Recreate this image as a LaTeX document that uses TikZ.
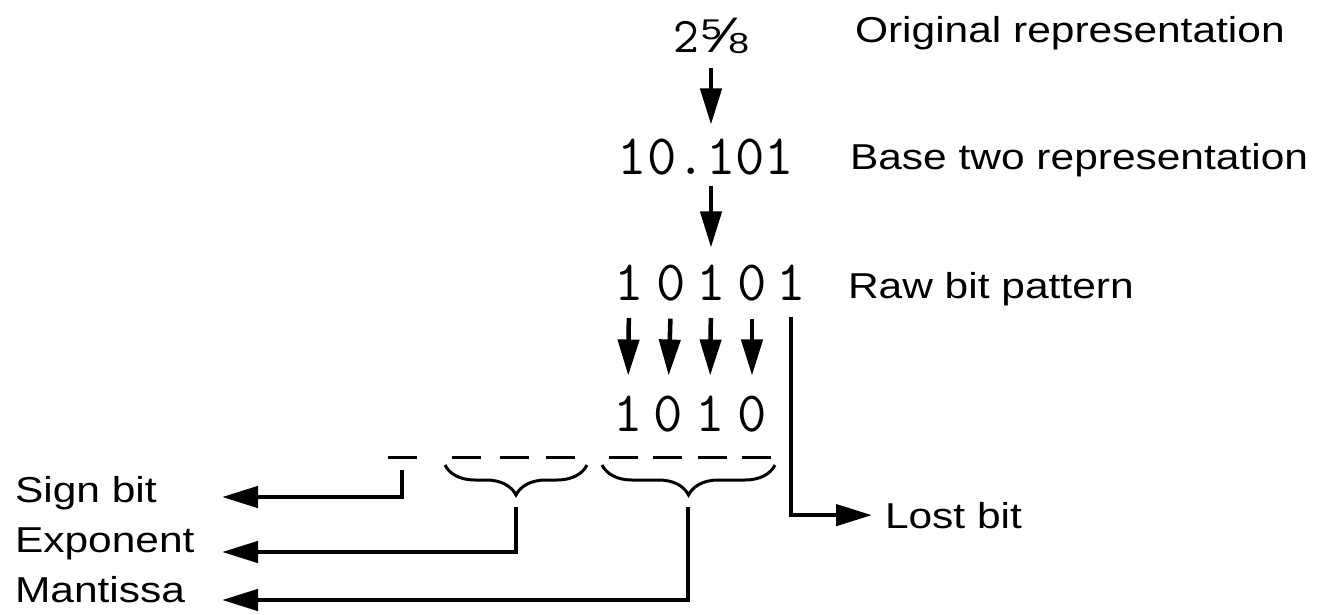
\documentclass[tikz,border=0pt]{standalone}
\usepackage{fontspec}
\setmainfont{Liberation Sans}
\newfontfamily\labelfont[FakeStretch=1.18]{Liberation Sans}
\usetikzlibrary{arrows.meta,decorations.pathreplacing}

\begin{document}
\begin{tikzpicture}[x=1pt,y=-1pt,
  every node/.style={inner sep=0pt, outer sep=0pt},
  lbl/.style={font=\labelfont\fontsize{36}{40}\selectfont, anchor=base west},
  bit/.style={font=\ttfamily\fontsize{57}{62}\selectfont, anchor=base},
  wire/.style={line width=4.5pt},
  arr/.style={wire, -{Triangle[length=36pt,width=21pt]}},
  slot/.style={minimum width=29pt, minimum height=0pt},
  dashline/.style={line width=3pt},
  bracket/.style={line width=3pt, decorate,
    decoration={brace, mirror, amplitude=30pt}},
]
\useasboundingbox (0,0) rectangle (1323,615);

% number in its successive forms
\node[anchor=base west] (orig) at (673,53)
  {{\ttfamily\fontsize{50}{54}\selectfont 2}{\labelfont\fontsize{50}{54}\selectfont ⅝}};
\node[bit] (base2) at (706,175) {10.101};

% raw bit pattern
\node[bit] (r1) at (629,300) {1};
\node[bit] (r2) at (671,300) {0};
\node[bit] (r3) at (711,300) {1};
\node[bit] (r4) at (752,300) {0};
\node[bit] (r5) at (791,300) {1};

% bits kept for the mantissa
\node[bit] (m1) at (628,431) {1};
\node[bit] (m2) at (668,431) {0};
\node[bit] (m3) at (710,431) {1};
\node[bit] (m4) at (752,431) {0};

% captions
\node[lbl] (tOrig) at (855,43) {Original representation};
\node[lbl] (tBase) at (850,170) {Base two representation};
\node[lbl] (tRaw)  at (848,298) {Raw bit pattern};
\node[lbl] (tLost) at (885,528) {Lost bit};
\node[lbl] (tSign) at (15,502) {Sign bit};
\node[lbl] (tExp)  at (15,552) {Exponent};
\node[lbl] (tMant) at (15,602) {Mantissa};

% the eight bit slots of the stored value
\node[slot] (s0) at (402,457) {};
\node[slot] (e1) at (466,457) {};
\node[slot] (e2) at (514,457) {};
\node[slot] (e3) at (560,457) {};
\node[slot] (f1) at (623,457) {};
\node[slot] (f2) at (667,457) {};
\node[slot] (f3) at (712,457) {};
\node[slot] (f4) at (756,457) {};
\foreach \s in {s0,e1,e2,e3,f1,f2,f3,f4}
  \draw[dashline] (\s.west) -- (\s.east);

% braces grouping exponent and mantissa slots
\draw[bracket] (445,465) -- (587,465);
\draw[bracket] (602,465) -- (775,465);
\coordinate (eTip) at (516,495);
\coordinate (mTip) at (688,495);

% ends of the field connectors
\coordinate (sEnd) at (222,497);
\coordinate (eEnd) at (222,552);
\coordinate (mEnd) at (222,600);

% conversion steps
\draw[arr, shorten <=14pt, shorten >=15pt] (orig.south -| r3) -- (base2.north -| r3);
\draw[arr, shorten <=10pt, shorten >=17pt] (base2.south -| r3) -- (r3.north);
\foreach \i in {1,2,3,4}
  \draw[arr, shorten <=18pt, shorten >=20pt] (r\i.south) -- (m\i.north);

% dropped bit
\draw[arr, shorten <=17pt, shorten >=13pt] (r5.south) |- (tLost.west);

% field connectors
\draw[arr, shorten <=13pt] (s0.center) |- (sEnd);
\draw[arr, shorten <=12pt] (eTip) |- (eEnd);
\draw[arr, shorten <=12pt] (mTip) |- (mEnd);
\end{tikzpicture}
\end{document}
